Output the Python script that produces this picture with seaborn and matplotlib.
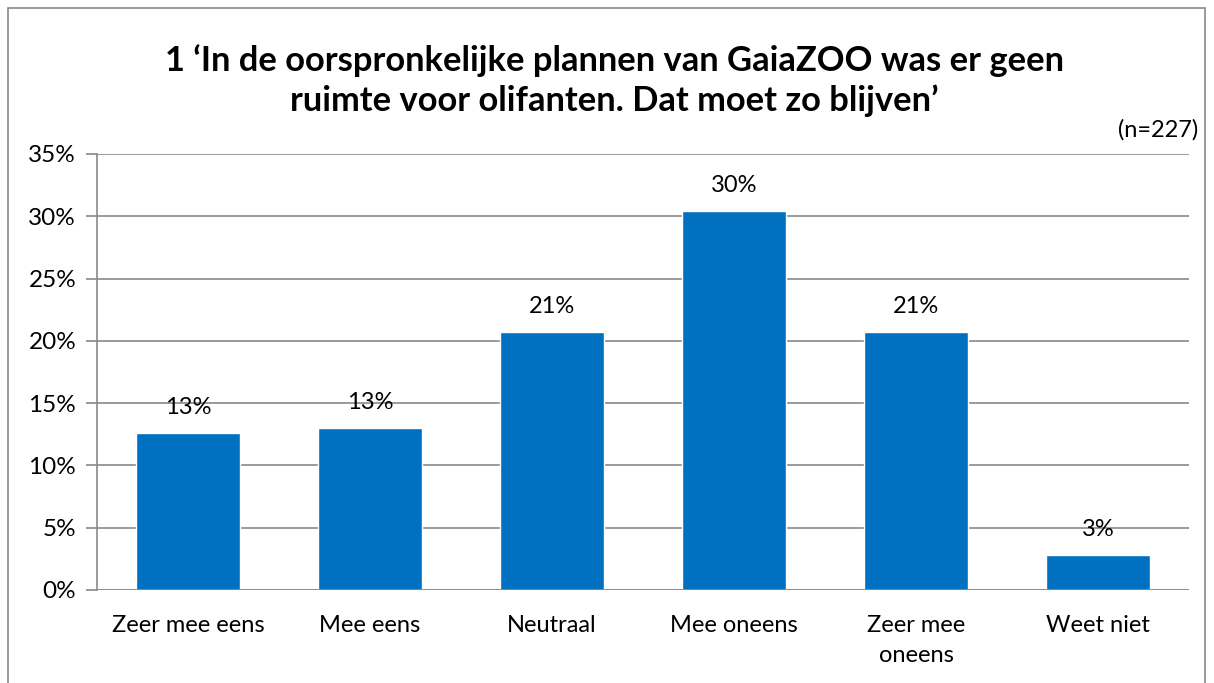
import matplotlib
matplotlib.use('Agg')
from matplotlib import pyplot as plt
from matplotlib.patches import Rectangle
import matplotlib.ticker as mtick
import pandas as pd
import seaborn as sns

categories = ['Zeer mee eens', 'Mee eens', 'Neutraal', 'Mee oneens',
              'Zeer mee\noneens', 'Weet niet']
values = [12.6, 13.0, 20.7, 30.4, 20.7, 2.8]
labels = ['13%', '13%', '21%', '30%', '21%', '3%']
title = '1 \u2018In de oorspronkelijke plannen van GaiaZOO was er geen\nruimte voor olifanten. Dat moet zo blijven\u2019'
note = '(n=227)'


def main():
  sns.set_style('white')
  plt.rcParams['font.family'] = ['Lato', 'DejaVu Sans']
  plt.rcParams['text.color'] = 'black'
  plt.rcParams['xtick.color'] = 'black'
  plt.rcParams['ytick.color'] = 'black'
  data = pd.DataFrame({'cat': categories, 'val': values})

  fig = plt.figure(figsize=(12.14, 6.83), dpi=100)
  fig.patches.append(Rectangle((8 / 1214, -0.01), 1197 / 1214, 1 - 8 / 683 + 0.01,
                               transform=fig.transFigure, fill=False,
                               edgecolor='#898989', linewidth=1.2))
  ax = fig.add_axes([97 / 1214, 93 / 683, 1092 / 1214, 436 / 683])
  sns.barplot(data=data, x='cat', y='val', color='#0070C0', saturation=1,
              width=0.566, ax=ax, zorder=3)

  ax.set_ylim(0, 35)
  ax.set_xlim(-0.5, len(categories) - 0.5)
  ax.yaxis.set_major_locator(mtick.MultipleLocator(5))
  ax.yaxis.set_major_formatter(mtick.FormatStrFormatter('%d%%'))
  ax.grid(axis='y', color='#898989', linewidth=1.2, zorder=0)
  for side in ['top', 'right', 'bottom']:
    ax.spines[side].set_visible(False)
  ax.spines['left'].set_color('#898989')
  ax.spines['left'].set_linewidth(1.2)
  ax.axhline(0, color='#898989', linewidth=1.2, zorder=4)
  ax.set_xticks([i - 0.5 for i in range(len(categories) + 1)], minor=True)
  ax.tick_params(axis='x', which='major', length=0, labelsize=17, pad=18)
  ax.tick_params(axis='x', which='minor', length=8, color='#898989',
                 width=1.2, direction='out')
  ax.tick_params(axis='y', length=8, color='#898989', labelcolor='black',
                 width=1.2, labelsize=17.5, pad=7, left=True)
  for t in ax.get_xticklabels():
    t.set_linespacing(1.5)
  ax.set_xlabel('')
  ax.set_ylabel('')

  for i, (v, lab) in enumerate(zip(values, labels)):
    ax.text(i, v + 1.2, lab, ha='center', va='bottom', fontsize=17)

  fig.text(0.506, 0.936, title, ha='center', va='top', fontsize=24.8,
           fontweight='bold', linespacing=1.3)
  fig.text(1198 / 1214, 1 - 130 / 683, note, ha='right', va='center',
           fontsize=17)

  plt.savefig('out.png', dpi=100)
  plt.close('all')


if __name__ == '__main__':
  main()
